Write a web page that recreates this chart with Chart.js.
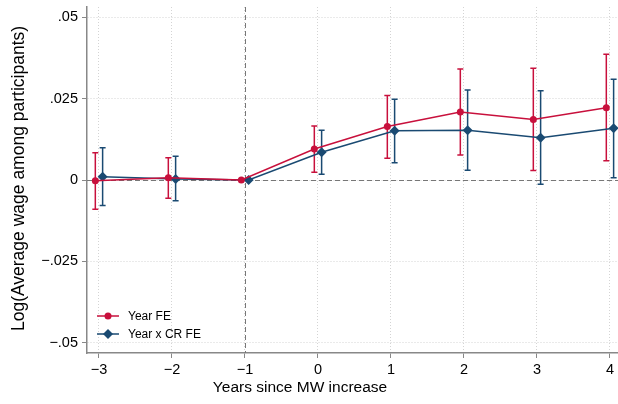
<!DOCTYPE html>
<html>
<head>
<meta charset="utf-8">
<script src="https://cdn.jsdelivr.net/npm/chart.js@4"></script>
<style>
  html, body { margin: 0; padding: 0; background: #fff; }
  #wrap { width: 618px; height: 404px; }
</style>
</head>
<body>
<div id="wrap"><canvas id="chart" width="618" height="404"></canvas></div>
<script>
// event time
const years = [-3, -2, -1, 0, 1, 2, 3, 4];

// Year FE
const fePoint = [-0.0002, 0.0007, 0, 0.0095, 0.0164, 0.0209, 0.0186, 0.0222];
const feLow   = [-0.0090, -0.0056, null, 0.0024, 0.0067, 0.0077, 0.0029, 0.0059];
const feHigh  = [0.0084, 0.0068, null, 0.0166, 0.0259, 0.0341, 0.0343, 0.0386];

// Year x CR FE
const crPoint = [0.0010, 0.0003, 0, 0.0085, 0.0151, 0.0153, 0.0130, 0.0159];
const crLow   = [-0.0078, -0.0064, null, 0.0018, 0.0053, 0.0030, -0.0013, 0.0007];
const crHigh  = [0.0099, 0.0073, null, 0.0153, 0.0248, 0.0276, 0.0274, 0.0309];

const yTicks = [-0.05, -0.025, 0, 0.025, 0.05];
const yTickLabels = ["\u2212.05", "\u2212.025", "0", ".025", ".05"];
const xTickLabels = ["\u22123", "\u22122", "\u22121", "0", "1", "2", "3", "4"];

const red = "#c8103c";
const blue = "#1a4a72";
const font = "'Liberation Sans', Arial, sans-serif";

const series = [
  { label: "Year FE", pts: fePoint, lo: feLow, hi: feHigh, color: red, shift: -0.05, style: "circle", r: 3.5 },
  { label: "Year x CR FE", pts: crPoint, lo: crLow, hi: crHigh, color: blue, shift: 0.05, style: "rectRot", r: 5 }
];

// dashed reference lines, confidence intervals, titles and legend
const extras = {
  id: "extras",
  beforeDatasetsDraw(chart) {
    const { ctx, chartArea: a, scales: { x, y } } = chart;
    ctx.save();
    ctx.strokeStyle = "#777";
    ctx.lineWidth = 1;
    ctx.setLineDash([5, 3]);
    const x0 = Math.round(x.getPixelForValue(-1)) + 0.5;
    ctx.beginPath(); ctx.moveTo(x0, a.top); ctx.lineTo(x0, a.bottom); ctx.stroke();
    const y0 = Math.round(y.getPixelForValue(0)) + 0.5;
    ctx.beginPath(); ctx.moveTo(a.left, y0); ctx.lineTo(a.right, y0); ctx.stroke();
    ctx.setLineDash([]);

    series.forEach(s => {
      ctx.strokeStyle = s.color;
      ctx.lineWidth = 1.5;
      years.forEach((yr, i) => {
        if (s.lo[i] === null) return;
        const px = x.getPixelForValue(yr + s.shift);
        const top = y.getPixelForValue(s.hi[i]);
        const bot = y.getPixelForValue(s.lo[i]);
        ctx.beginPath();
        ctx.moveTo(px, top); ctx.lineTo(px, bot);
        ctx.moveTo(px - 3, top); ctx.lineTo(px + 3, top);
        ctx.moveTo(px - 3, bot); ctx.lineTo(px + 3, bot);
        ctx.stroke();
      });
    });
    ctx.restore();
  },
  afterDraw(chart) {
    const { ctx } = chart;
    ctx.save();
    ctx.fillStyle = "#000";
    ctx.textAlign = "center";
    ctx.textBaseline = "middle";
    ctx.font = "15.5px " + font;
    ctx.fillText("Years since MW increase", 300, 388);
    ctx.font = "17.5px " + font;
    ctx.translate(19, 178.5);
    ctx.rotate(-Math.PI / 2);
    ctx.fillText("Log(Average wage among participants)", 0, 0);
    ctx.restore();

    // legend
    ctx.save();
    ctx.font = "12px " + font;
    ctx.textBaseline = "middle";
    ctx.textAlign = "left";
    series.forEach((s, i) => {
      const ly = 316 + i * 18;
      ctx.strokeStyle = s.color;
      ctx.lineWidth = 1.5;
      ctx.beginPath(); ctx.moveTo(97, ly); ctx.lineTo(119, ly); ctx.stroke();
      ctx.fillStyle = s.color;
      ctx.beginPath();
      if (s.style === "circle") {
        ctx.arc(108, ly, 3.5, 0, Math.PI * 2);
      } else {
        ctx.moveTo(108, ly - 5); ctx.lineTo(113, ly); ctx.lineTo(108, ly + 5); ctx.lineTo(103, ly);
        ctx.closePath();
      }
      ctx.fill();
      ctx.fillStyle = "#000";
      ctx.fillText(s.label, 128, ly + 0.5);
    });
    ctx.restore();
  }
};

new Chart(document.getElementById("chart"), {
  type: "line",
  data: {
    datasets: series.map(s => ({
      label: s.label,
      data: years.map((yr, i) => ({ x: yr + s.shift, y: s.pts[i] })),
      borderColor: s.color,
      backgroundColor: s.color,
      borderWidth: 1.5,
      pointStyle: s.style,
      pointRadius: s.r,
      pointBorderWidth: 0,
      tension: 0
    }))
  },
  options: {
    responsive: false,
    animation: false,
    layout: { autoPadding: false, padding: { top: 7, right: 0, left: 0, bottom: 0 } },
    plugins: { legend: { display: false }, tooltip: { enabled: false } },
    scales: {
      x: {
        type: "linear",
        min: -3.164,
        max: 4.11,
        afterBuildTicks: sc => { sc.ticks = years.map(v => ({ value: v })); },
        afterFit: sc => { sc.height = 51; sc.paddingLeft = 0; sc.paddingRight = 0; },
        ticks: {
          callback: (v) => xTickLabels[years.indexOf(v)],
          color: "#000",
          font: { family: font, size: 14.5 },
          padding: 3,
          maxRotation: 0
        },
        grid: { color: "#d4d4d4", tickColor: "#888", tickLength: 5, tickBorderDash: [], tickWidth: 1 },
        border: { color: "#888", width: 1.5, dash: [1, 2] }
      },
      y: {
        min: -0.0531,
        max: 0.0531,
        afterBuildTicks: sc => { sc.ticks = yTicks.map(v => ({ value: v })); },
        afterFit: sc => { sc.width = 87; sc.paddingTop = 0; sc.paddingBottom = 0; },
        ticks: {
          callback: (v) => yTickLabels[yTicks.indexOf(v)],
          color: "#000",
          font: { family: font, size: 14.5 },
          padding: 4
        },
        grid: { color: "#d4d4d4", tickColor: "#888", tickLength: 5, tickBorderDash: [], tickWidth: 1 },
        border: { color: "#888", width: 1.5, dash: [1, 2] }
      }
    }
  },
  plugins: [extras]
});
</script>
</body>
</html>
